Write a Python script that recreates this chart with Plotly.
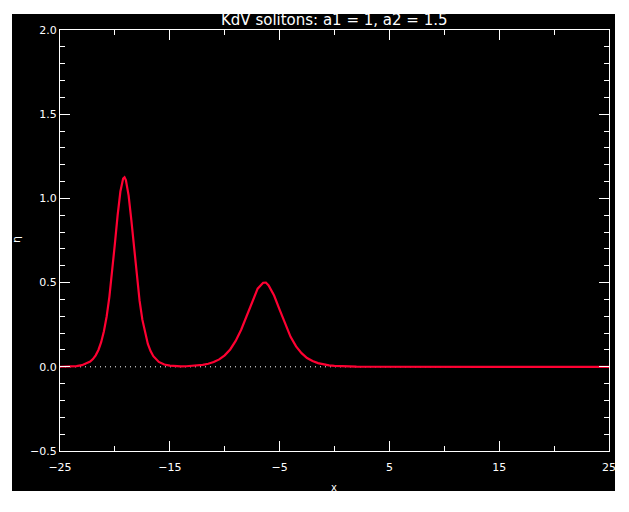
import plotly.graph_objects as go

# Data
x_vals = [-25, -24.5, -24, -23.5, -23, -22.5, -22.25, -22, -21.75, -21.5,
          -21.25, -21, -20.75, -20.5, -20.25, -20, -19.75, -19.5, -19.25, -19.125, -19,
          -18.75, -18.5, -18.25, -18, -17.75, -17.5, -17.25, -17, -16.75, -16.5,
          -16, -15.5, -15, -14.5, -14, -13.5, -13, -12.5, -12, -11.5,
          -11, -10.5, -10, -9.5, -9, -8.5, -8, -7.5, -7, -6.5, -6.25,
          -6, -5.5, -5, -4.5, -4, -3.5, -3, -2.5, -2, -1.5,
          -1, -0.5, 0, 1, 2, 3, 4, 6, 8, 10,
          12, 14, 16, 18, 20, 22, 24, 25]
eta_vals = [0.0004, 0.0009, 0.0019, 0.0043, 0.0095, 0.021, 0.031, 0.046, 0.068, 0.100,
            0.146, 0.211, 0.299, 0.417, 0.563, 0.731, 0.901, 1.041, 1.118, 1.125, 1.109,
            1.017, 0.869, 0.696, 0.532, 0.391, 0.280, 0.197, 0.136, 0.093, 0.063,
            0.029, 0.0134, 0.0066, 0.0038, 0.003, 0.0034, 0.0048, 0.0073, 0.0114, 0.018,
            0.028, 0.044, 0.068, 0.103, 0.154, 0.220, 0.304, 0.391, 0.464, 0.499, 0.500,
            0.483, 0.423, 0.339, 0.253, 0.178, 0.121, 0.081, 0.052, 0.034, 0.022,
            0.014, 0.0087, 0.0055, 0.0022, 0.0009, 0.0004, 0, 0, 0, 0,
            0, 0, 0, 0, 0, 0, 0, 0]
baseline_x = [-25, 25]
baseline_y = [0, 0]

title_text = "KdV solitons: a1 = 1, a2 = 1.5"
x_title = "x"
y_title = "η"

W, H = 629, 512
PL, PR, PT, PB = 60, 609, 30, 451          # plot area edges in page pixels
L, T = PL, PT
R, B = W - PR, H - PB
pw, ph = PR - PL, PB - PT

def px_x(p):
    return (p - PL) / pw

def px_y(p):
    return (PB - p) / ph

font = "DejaVu Sans"

fig = go.Figure()
fig.add_trace(go.Scatter(x=baseline_x, y=baseline_y, mode="lines",
                         line=dict(color="white", width=1, dash="1px,4px"),
                         hoverinfo="skip", showlegend=False))
fig.add_trace(go.Scatter(x=x_vals, y=eta_vals, mode="lines",
                         line=dict(color="rgb(255,0,50)", width=2.2),
                         showlegend=False))

axis_common = dict(showgrid=False, zeroline=False, showline=True, mirror="ticks",
                   linecolor="white", linewidth=1, ticks="inside", tickcolor="white",
                   tickwidth=1, ticklen=10, automargin=False,
                   tickfont=dict(family=font, size=11, color="white"))

fig.update_xaxes(range=[-25, 25], tick0=-25, dtick=10,
                 minor=dict(ticks="inside", ticklen=5, tickcolor="white", dtick=5, tick0=-25),
                 ticklabelstandoff=6, **axis_common)
fig.update_yaxes(range=[-0.5, 2.0], tick0=-0.5, dtick=0.5, tickformat=".1f",
                 minor=dict(ticks="inside", ticklen=5, tickcolor="white", dtick=0.1, tick0=-0.5),
                 ticklabelstandoff=0, **axis_common)

fig.add_shape(type="rect", xref="paper", yref="paper", layer="below",
              x0=px_x(12), x1=px_x(615), y0=px_y(491), y1=px_y(14),
              fillcolor="black", line=dict(width=0))

fig.add_annotation(text=title_text, xref="paper", yref="paper", x=0.5, y=px_y(20),
                   xanchor="center", yanchor="middle", showarrow=False,
                   font=dict(family=font, size=15, color="white"))
fig.add_annotation(text=x_title, xref="paper", yref="paper", x=px_x(334), y=px_y(487),
                   xanchor="center", yanchor="middle", showarrow=False,
                   font=dict(family=font, size=10, color="white"))
fig.add_annotation(text=y_title, xref="paper", yref="paper", x=px_x(16), y=px_y(240),
                   xanchor="center", yanchor="middle", showarrow=False, textangle=-90,
                   font=dict(family=font, size=11, color="white"))

fig.update_layout(width=W, height=H, autosize=False, margin=dict(l=L, r=R, t=T, b=B, pad=0),
                  paper_bgcolor="white", plot_bgcolor="black", showlegend=False,
                  hovermode=False)

page_css = ("var s=document.createElement('style');"
            "s.innerHTML='html,body{margin:0;padding:0;overflow:hidden;}';"
            "document.head.appendChild(s);")
fig.write_html("out.html", post_script=page_css,
               config={"displayModeBar": False, "staticPlot": True})
